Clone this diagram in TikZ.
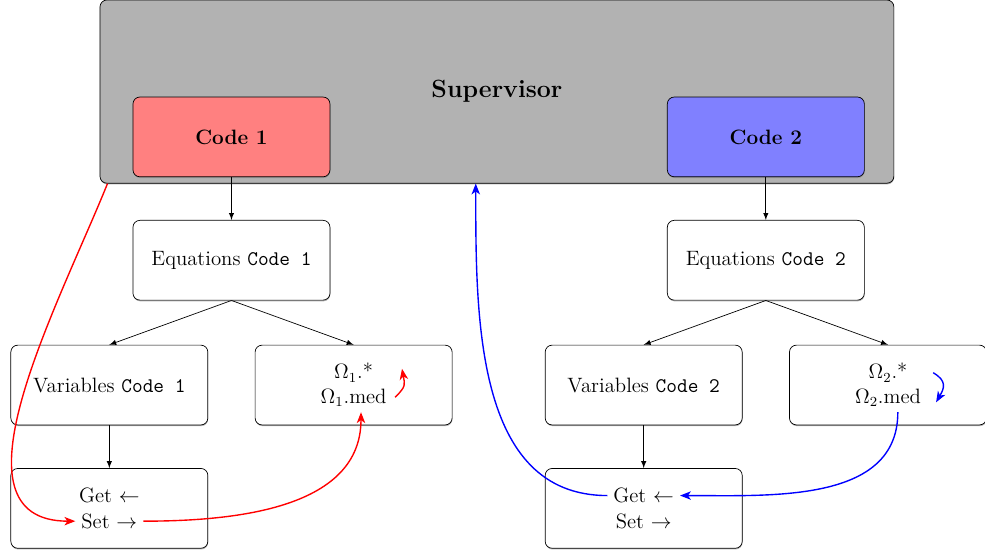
\documentclass[tikz,border=0pt]{standalone}
\usetikzlibrary{positioning,shadows,arrows.meta}

\begin{document}
\begin{tikzpicture}[
    box/.style={draw, rounded corners, minimum width=4cm, minimum height=1.62cm, font=\large, fill=white,
        drop shadow={shadow xshift=0.2pt, shadow yshift=-0.7pt, opacity=0.6}},
    codebox/.style={box, font=\large\bfseries},
    txt/.style={font=\large, inner sep=0.333em},
    link/.style={-latex},
    feed/.style={thick, -{Stealth[length=2.2mm, width=1.7mm, inset=0.6mm]}}
]
    \useasboundingbox (0,0) rectangle (20,-11.21);
    \node[box, fill=gray!60, minimum width=16.12cm, minimum height=3.72cm, font=\Large\bfseries] (sup) at (10.09,-1.86) {Supervisor};
    \node[codebox, fill=red!50] (code1) at (4.70,-2.78) {Code 1};
    \node[codebox, fill=blue!50] (code2) at (15.55,-2.78) {Code 2};

    \node[box, below=0.87cm of code1] (eq1) {Equations \texttt{Code 1}};
    \node[box, below=0.9cm of eq1, xshift=-2.48cm] (var1) {Variables \texttt{Code 1}};
    \node[box, below=0.9cm of eq1, xshift=2.48cm] (om1) {};
    \node[box, below=0.87cm of var1] (gs1) {};
    \node[txt] (om1star) at ([yshift=0.25cm]om1.center) {$\Omega_1$.*};
    \node[txt] (om1med) at ([yshift=-0.25cm]om1.center) {$\Omega_1$.med};
    \node[txt] (get1) at ([yshift=0.26cm]gs1.center) {Get $\leftarrow$};
    \node[txt] (set1) at ([yshift=-0.26cm]gs1.center) {Set $\rightarrow$};

    \node[box, below=0.87cm of code2] (eq2) {Equations \texttt{Code 2}};
    \node[box, below=0.9cm of eq2, xshift=-2.48cm] (var2) {Variables \texttt{Code 2}};
    \node[box, below=0.9cm of eq2, xshift=2.48cm] (om2) {};
    \node[box, below=0.87cm of var2] (gs2) {};
    \node[txt] (om2star) at ([yshift=0.25cm]om2.center) {$\Omega_2$.*};
    \node[txt] (om2med) at ([yshift=-0.25cm]om2.center) {$\Omega_2$.med};
    \node[txt] (get2) at ([yshift=0.26cm]gs2.center) {Get $\leftarrow$};
    \node[txt] (set2) at ([yshift=-0.26cm]gs2.center) {Set $\rightarrow$};

    \draw[link] (code1) -- (eq1);
    \draw[link] (eq1.south) -- (var1.north);
    \draw[link] (eq1.south) -- (om1.north);
    \draw[link] (var1) -- (gs1);
    \draw[link] (code2) -- (eq2);
    \draw[link] (eq2.south) -- (var2.north);
    \draw[link] (eq2.south) -- (om2.north);
    \draw[link] (var2) -- (gs2);

    \draw[feed, red] ([xshift=0.16cm]sup.south west) to[out=-112, in=180] (set1.west);
    \draw[feed, red] (set1.east) to[out=0, in=-90] ([xshift=0.15cm]om1med.south);
    \draw[feed, red] ([xshift=0.05cm]om1med.east) to[out=45, in=-80, looseness=1.4] ++(0.14,0.58);
    \draw[feed, blue] (get2.west) to[out=180, in=-90] ([xshift=-0.43cm]sup.south);
    \draw[feed, blue] ([xshift=0.2cm]om2med.south) to[out=-90, in=0] (get2.east);
    \draw[feed, blue] ([xshift=0.4cm]om2star.east) to[out=-30, in=60, looseness=1.4] ++(0.06,-0.6);
\end{tikzpicture}
\end{document}
